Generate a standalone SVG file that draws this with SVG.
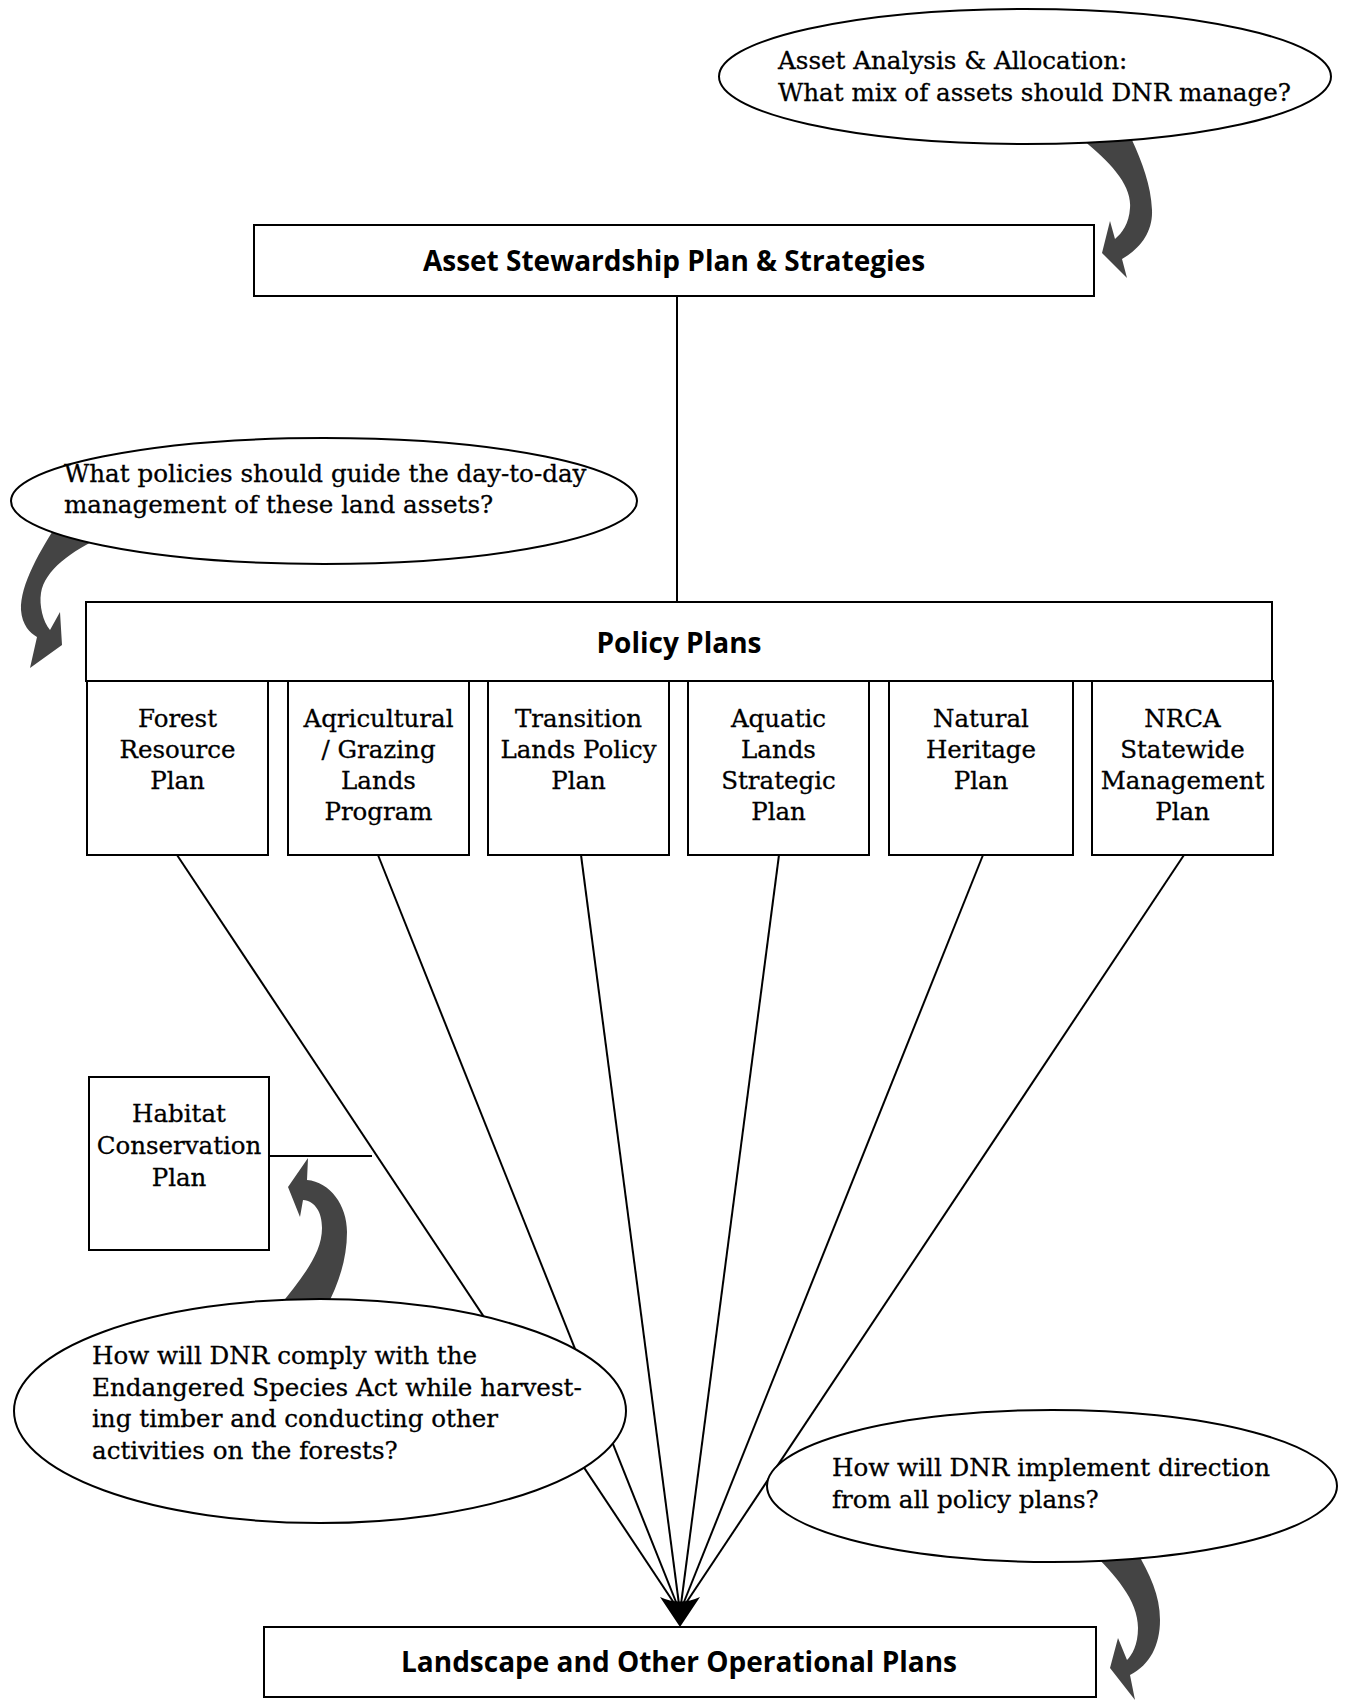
<svg xmlns="http://www.w3.org/2000/svg" width="1348" height="1701" viewBox="0 0 1348 1701">
<style>
.box{fill:#fff;stroke:#000;stroke-width:2}
.ell{fill:#fff;stroke:#000;stroke-width:2}
.ln{stroke:#000;stroke-width:2;fill:none}
.curl{fill:#444;stroke:none}
.q{font-family:"DejaVu Serif","Liberation Serif",serif;font-size:24.6px;fill:#000;stroke:#000;stroke-width:0.3}
.t{font-family:"DejaVu Serif","Liberation Serif",serif;font-size:24.5px;fill:#000;stroke:#000;stroke-width:0.3;text-anchor:middle}
.h{font-family:"Open Sans","Liberation Sans",sans-serif;font-weight:bold;font-size:28px;fill:#000;text-anchor:middle}
</style>
<rect width="1348" height="1701" fill="#fff"/>
<g id="connectors">
<line class="ln" x1="677" y1="296" x2="677" y2="602"/>
<line class="ln" x1="177" y1="855" x2="680" y2="1612"/>
<line class="ln" x1="378" y1="855" x2="680" y2="1612"/>
<line class="ln" x1="581" y1="855" x2="680" y2="1612"/>
<line class="ln" x1="779" y1="855" x2="680" y2="1612"/>
<line class="ln" x1="983" y1="855" x2="680" y2="1612"/>
<line class="ln" x1="1184" y1="855" x2="680" y2="1612"/>
<line class="ln" x1="269" y1="1156" x2="372" y2="1156"/>
<path d="M660,1597 Q680,1606 700,1597 L680,1627 Z" fill="#000"/>
</g>
<g id="curl-arrows">
<path class="curl" d="M1083,140 C1110,162 1132,185 1130,208 C1129,224 1122,233 1115,239 L1110,221 L1102,253 L1127,278 L1122,259 C1140,249 1153,232 1152,210 C1151,185 1142,162 1132,140 Z"/>
<path class="curl" d="M60,520 C40,550 20,585 21,610 C22,625 30,633 37,637 L30,668 L62,645 L60,612 L50,630 C43,622 39,605 41,593 C45,570 70,552 105,535 Z"/>
<path class="curl" d="M278,1308 C300,1280 322,1255 322,1228 C322,1212 315,1201 303,1200 L300,1217 L288,1187 L308,1158 L307,1180 C330,1182 347,1205 347,1232 C347,1260 338,1285 326,1308 Z"/>
<path class="curl" d="M1090,1550 C1115,1575 1138,1600 1138,1628 C1138,1645 1132,1655 1127,1660 L1118,1638 L1110,1668 L1135,1700 L1130,1675 C1150,1665 1160,1645 1160,1620 C1160,1595 1150,1575 1136,1550 Z"/>
</g>
<g id="q-asset">
<ellipse class="ell" cx="1025" cy="76.5" rx="306" ry="67.5"/>
<text class="q" x="778" y="69">Asset Analysis &amp; Allocation:</text>
<text class="q" x="778" y="101">What mix of assets should DNR manage?</text>
</g>
<g id="asset-plan">
<rect class="box" x="254" y="225" width="840" height="71"/>
<text class="h" x="674" y="271">Asset Stewardship Plan &amp; Strategies</text>
</g>
<g id="q-policies">
<ellipse class="ell" cx="324" cy="501" rx="313" ry="63"/>
<text class="q" x="64" y="482">What policies should guide the day-to-day</text>
<text class="q" x="64" y="513">management of these land assets?</text>
</g>
<g id="policy-plans">
<rect class="box" x="86" y="602" width="1186" height="79"/>
<text class="h" x="679" y="653">Policy Plans</text>
</g>
<g id="forest">
<rect class="box" x="87" y="681" width="181" height="174"/>
<text class="t" x="177.5" y="727">Forest</text>
<text class="t" x="177.5" y="758">Resource</text>
<text class="t" x="177.5" y="789">Plan</text>
</g>
<g id="agricultural">
<rect class="box" x="288" y="681" width="181" height="174"/>
<text class="t" x="378.5" y="727">Aqricultural</text>
<text class="t" x="378.5" y="758">/ Grazing</text>
<text class="t" x="378.5" y="789">Lands</text>
<text class="t" x="378.5" y="820">Program</text>
</g>
<g id="transition">
<rect class="box" x="488" y="681" width="181" height="174"/>
<text class="t" x="578.5" y="727">Transition</text>
<text class="t" x="578.5" y="758">Lands Policy</text>
<text class="t" x="578.5" y="789">Plan</text>
</g>
<g id="aquatic">
<rect class="box" x="688" y="681" width="181" height="174"/>
<text class="t" x="778.5" y="727">Aquatic</text>
<text class="t" x="778.5" y="758">Lands</text>
<text class="t" x="778.5" y="789">Strategic</text>
<text class="t" x="778.5" y="820">Plan</text>
</g>
<g id="natural">
<rect class="box" x="889" y="681" width="184" height="174"/>
<text class="t" x="981" y="727">Natural</text>
<text class="t" x="981" y="758">Heritage</text>
<text class="t" x="981" y="789">Plan</text>
</g>
<g id="nrca">
<rect class="box" x="1092" y="681" width="181" height="174"/>
<text class="t" x="1182.5" y="727">NRCA</text>
<text class="t" x="1182.5" y="758">Statewide</text>
<text class="t" x="1182.5" y="789">Management</text>
<text class="t" x="1182.5" y="820">Plan</text>
</g>
<g id="hcp">
<rect class="box" x="89" y="1077" width="180" height="173"/>
<text class="t" x="179" y="1122">Habitat</text>
<text class="t" x="179" y="1154">Conservation</text>
<text class="t" x="179" y="1186">Plan</text>
</g>
<g id="q-esa">
<ellipse class="ell" cx="320" cy="1411" rx="306" ry="112"/>
<text class="q" x="92" y="1364">How will DNR comply with the</text>
<text class="q" x="92" y="1396">Endangered Species Act while harvest-</text>
<text class="q" x="92" y="1427">ing timber and conducting other</text>
<text class="q" x="92" y="1459">activities on the forests?</text>
</g>
<g id="q-implement">
<ellipse class="ell" cx="1052" cy="1486" rx="285" ry="76"/>
<text class="q" x="832" y="1476">How will DNR implement direction</text>
<text class="q" x="832" y="1508">from all policy plans?</text>
</g>
<g id="landscape">
<rect class="box" x="264" y="1627" width="832" height="70"/>
<text class="h" x="679" y="1672">Landscape and Other Operational Plans</text>
</g>
</svg>
